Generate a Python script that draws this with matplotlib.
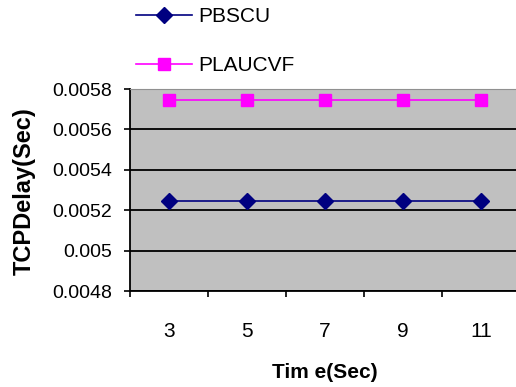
import matplotlib
matplotlib.use('Agg')
import matplotlib.pyplot as plt

# data
time_sec = ['3', '5', '7', '9', '11']
pbscu = [0.005245, 0.005245, 0.005245, 0.005245, 0.005245]
plaucvf = [0.005745, 0.005745, 0.005745, 0.005745, 0.005745]
y_ticks = [0.0048, 0.005, 0.0052, 0.0054, 0.0056, 0.0058]
y_tick_labels = ['0.0048', '0.005', '0.0052', '0.0054', '0.0056', '0.0058']

plt.rcParams['font.family'] = ['Liberation Sans', 'DejaVu Sans']

W, H = 516, 387
fig = plt.figure(figsize=(W / 100, H / 100), dpi=100)
ax = fig.add_axes([130 / W, 1 - 291 / H, 390 / W, 202 / H])
ax.set_facecolor('#C0C0C0')

pos = list(range(1, len(time_sec) + 1))
ax.plot(pos, pbscu, color='#000080', lw=1.2, marker='D', ms=8.5, label='PBSCU')
ax.plot(pos, plaucvf, color='#FF00FF', lw=1.2, marker='s', ms=9, label='PLAUCVF')

ax.set_xlim(0.5, len(time_sec) + 0.5)
ax.set_ylim(0.0048, 0.0058)
ax.set_yticks(y_ticks)
ax.set_yticklabels(y_tick_labels)
ax.yaxis.grid(True, color='black', lw=1.3)
ax.set_axisbelow(True)

ax.set_xticks(pos)
ax.set_xticklabels(time_sec)
ax.set_xticks([p - 0.5 for p in pos], minor=True)
ax.tick_params(axis='x', which='major', length=0, pad=22, labelsize=15)
ax.tick_params(axis='x', which='minor', length=4, width=1.2, direction='out')
ax.tick_params(axis='y', length=4, width=1.2, pad=9, labelsize=14)

for s in ['left', 'bottom']:
    ax.spines[s].set_color('black')
    ax.spines[s].set_linewidth(1.3)
ax.spines['top'].set_color('#909090')
ax.spines['right'].set_visible(False)

fig.text(24 / W, 1 - 191 / H, 'TCPDelay(Sec)', rotation=90, ha='center', va='center',
         fontsize=17, fontweight='bold')
fig.text(325 / W, 1 - 373 / H, 'Tim e(Sec)', ha='center', va='center',
         fontsize=15, fontweight='bold')

fig.legend(loc='upper left', bbox_to_anchor=(136 / W, 1 - 7 / H), frameon=False,
           fontsize=15, borderpad=0, borderaxespad=0, handlelength=2.7,
           handletextpad=0.3, labelspacing=1.45)

fig.savefig('out.png', dpi=100)
